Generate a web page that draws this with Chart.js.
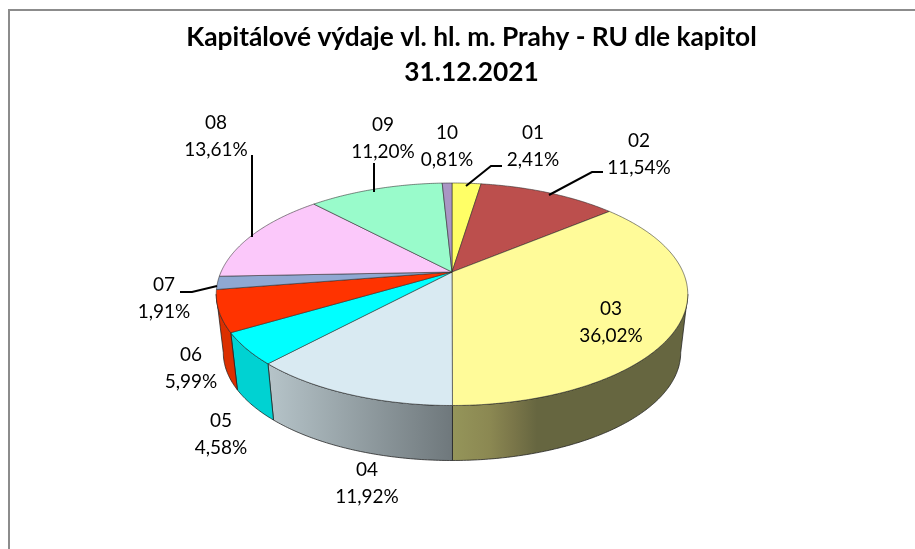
<!DOCTYPE html>
<html><head><meta charset="utf-8">
<style>html,body{margin:0;padding:0;background:#fff}#wrap{position:relative;width:915px;height:549px}canvas{display:block}</style>
<script src="https://cdn.jsdelivr.net/npm/chart.js@4/dist/chart.umd.min.js"></script>
</head><body><div id="wrap"><canvas id="c" width="915" height="549"></canvas></div>
<script>
const categories=['01','02','03','04','05','06','07','08','09','10'];
const shares=[2.41,11.54,36.02,11.92,4.58,5.99,1.91,13.61,11.20,0.81];
const topColors=['#FFFF66','#BC4F4D','#FFFB99','#D9EAF2','#00FFFF','#FF3300','#8FA8D2','#FBC8FA','#99FBCB','#A996C4'];
const sideColors=[null,null,null,null,'#00D2D2','#DB2F00',null,null,null,null];
const titleLines=['Kapitálové výdaje vl. hl. m. Prahy - RU dle kapitol','31.12.2021'];
const labelAnchors=[[533,133],[639,141],[611,309],[367,470],[221,421],[191,355],[164,285],[216,123],[383,125],[447,133]];
const leaders=[[[466,186],[491,166],[502,166]],[[549,195],[592,172],[603,172]],null,null,null,null,[[217,286],[192,292],[180,292]],[[252,237],[252,155]],[[374,192],[374,163]],null];

const G={cx:452,Y0:272,R:231,B:106.8,k:0.2,drop:59,s:0.97};
function pt(theta,low){
  const u=Math.sin(theta),v=-Math.cos(theta),w=1-G.k*v,s=low?G.s:1;
  return [G.cx+s*G.R*u/w,G.Y0+(low?G.drop:0)+s*G.B*v/w];
}
function tracePath(ctx,a,b,low,first){
  const n=Math.max(2,Math.ceil(Math.abs(b-a)/0.01));
  for(let i=0;i<=n;i++){
    const p=pt(a+(b-a)*i/n,low);
    (first&&i===0)?ctx.moveTo(p[0],p[1]):ctx.lineTo(p[0],p[1]);
  }
}
const tiltPlugin={
  id:'tilt',
  beforeDatasetDraw(chart,args){
    const ctx=chart.ctx,arcs=chart.getDatasetMeta(args.index).data;
    const thetas=arcs.map(e=>[e.startAngle+Math.PI/2,e.endAngle+Math.PI/2]);
    const vis0=Math.PI-Math.acos(G.k), vis1=Math.PI+Math.acos(G.k);
    ctx.save();
    ctx.lineJoin='round';
    // side wall, drawn before the top face
    thetas.forEach(([a,b],i)=>{
      const s=Math.max(a,vis0),e=Math.min(b,vis1);
      if(e<=s)return;
      ctx.beginPath();
      tracePath(ctx,s,e,false,true);
      tracePath(ctx,e,s,true,false);
      ctx.closePath();
      let fill=sideColors[i];
      if(i===2){
        fill=ctx.createLinearGradient(452,0,688,0);
        fill.addColorStop(0,'#95955A');fill.addColorStop(0.16,'#8B8852');fill.addColorStop(0.26,'#7A7649');fill.addColorStop(0.36,'#666640');fill.addColorStop(1,'#666640');
      }else if(i===3){
        fill=ctx.createLinearGradient(270,0,452,0);
        fill.addColorStop(0,'#B5C3C8');fill.addColorStop(1,'#6F787C');
      }
      ctx.fillStyle=fill;ctx.fill();
      ctx.strokeStyle='rgba(30,30,30,0.75)';ctx.lineWidth=1;ctx.stroke();
    });
    // top face
    thetas.forEach(([a,b],i)=>{
      ctx.beginPath();
      ctx.moveTo(G.cx,G.Y0);
      tracePath(ctx,a,b,false,false);
      ctx.closePath();
      ctx.fillStyle=topColors[i];ctx.fill();
      ctx.strokeStyle='rgba(40,40,40,0.55)';ctx.lineWidth=1;ctx.stroke();
    });
    ctx.restore();
    return false;
  },
  afterDatasetsDraw(chart){
    const ctx=chart.ctx;
    ctx.save();
    // leader lines
    ctx.strokeStyle='#000';ctx.lineWidth=2;ctx.lineJoin='miter';
    leaders.forEach(l=>{
      if(!l)return;
      ctx.beginPath();l.forEach((p,i)=>i?ctx.lineTo(p[0],p[1]):ctx.moveTo(p[0],p[1]));ctx.stroke();
    });
    // data labels
    ctx.fillStyle='#000';ctx.font='19px Lato';ctx.textAlign='center';ctx.textBaseline='middle';
    categories.forEach((c,i)=>{
      const [x,y]=labelAnchors[i];
      ctx.fillText(c,x,y);
      ctx.fillText(shares[i].toFixed(2).replace('.',',')+'%',x,y+26.5);
    });
    // frame
    ctx.strokeStyle='#8C8C8C';ctx.lineWidth=2;
    ctx.beginPath();ctx.moveTo(9,549);ctx.lineTo(9,10);ctx.lineTo(915,10);ctx.stroke();
    ctx.restore();
  }
};
const chart=new Chart(document.getElementById('c'),{
  type:'pie',
  data:{labels:categories,datasets:[{data:shares,backgroundColor:topColors}]},
  options:{
    responsive:false,animation:false,
    rotation:0,
    layout:{padding:{top:4,left:28}},
    plugins:{
      legend:{display:false},
      tooltip:{enabled:false},
      title:{display:true,text:titleLines,color:'#000',padding:{top:16,bottom:0},
        font:{family:'Lato',size:26.3,weight:'bold',lineHeight:1.33}}
    }
  },
  plugins:[tiltPlugin]
});
</script></body></html>
